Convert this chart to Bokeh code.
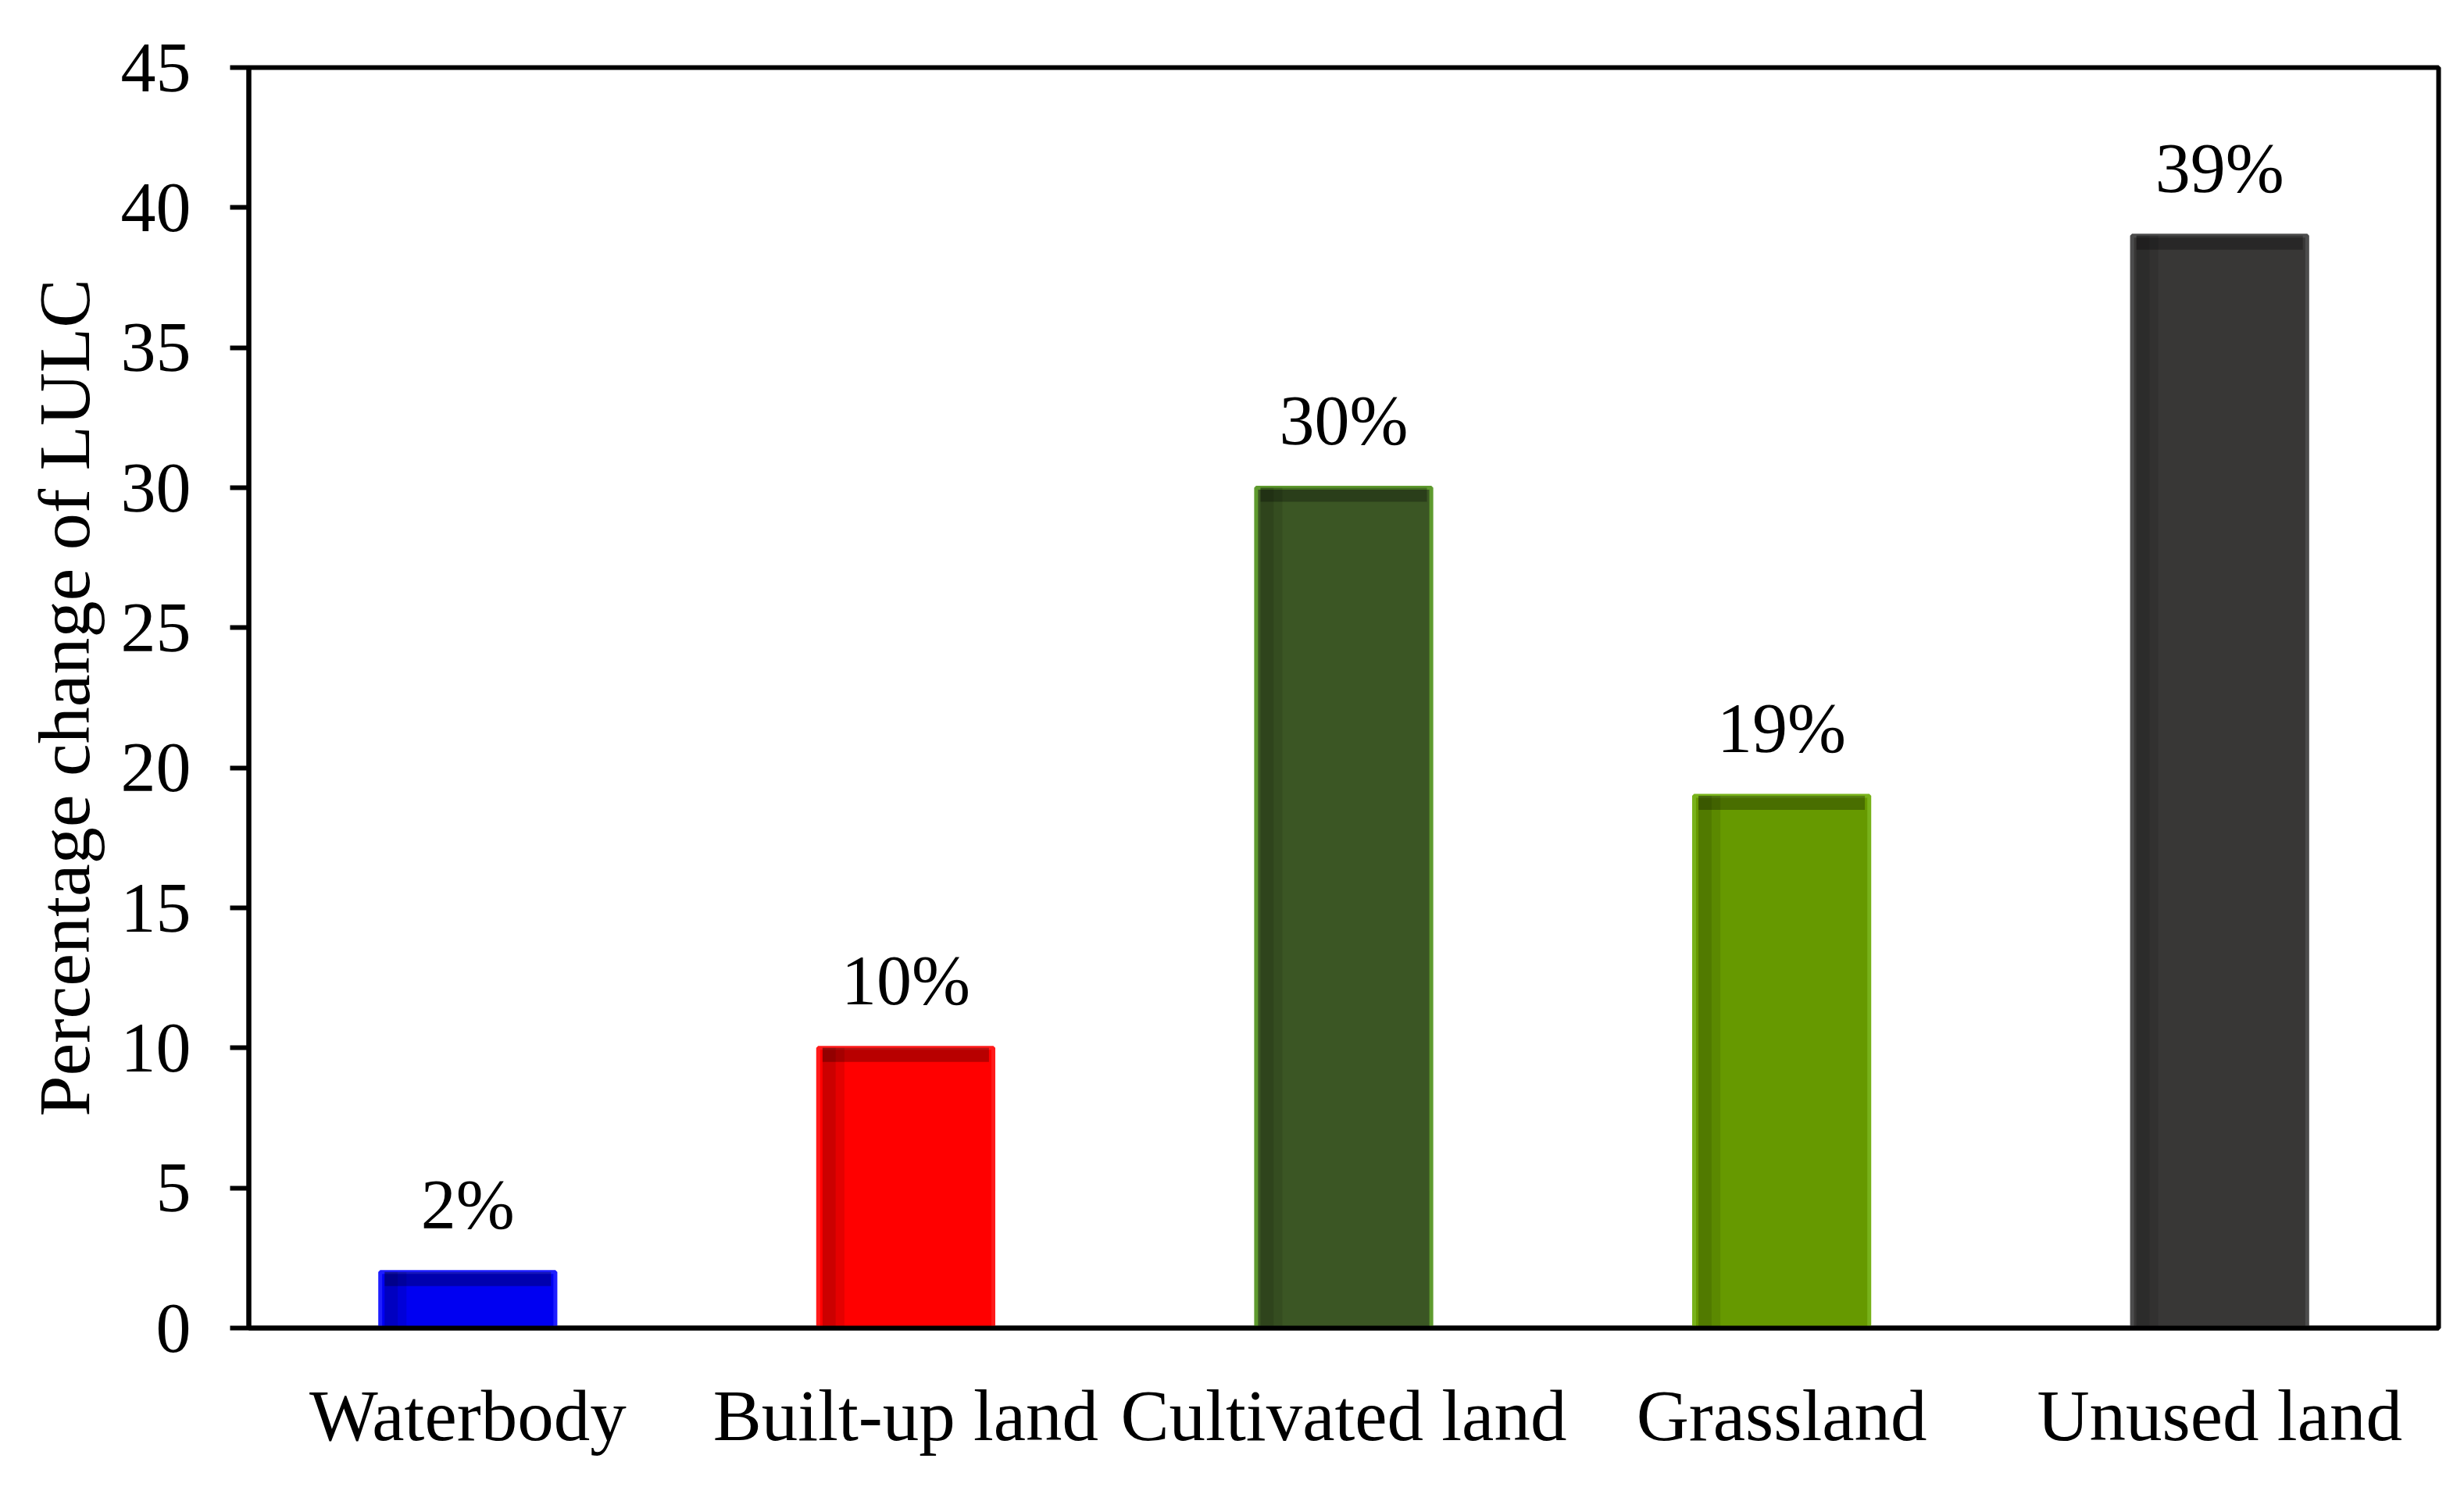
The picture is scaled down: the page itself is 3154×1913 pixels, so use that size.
from bokeh.plotting import figure
from bokeh.models import ColumnDataSource, LabelSet, Range1d, FactorRange, SingleIntervalTicker
from bokeh.transform import dodge
from bokeh.embed import file_html
from bokeh.resources import INLINE

categories = ["Waterbody", "Built-up land", "Cultivated land", "Grassland", "Unused land"]
values = [2, 10, 30, 19, 39]
labels = ["2%", "10%", "30%", "19%", "39%"]
fill_colors = ["#0000F2", "#FF0000", "#3B5624", "#669900", "#383736"]
line_colors = ["#1E1EFF", "#FF1A1A", "#5E9A2E", "#78B21A", "#4C4C4C"]

FONT = "Liberation Serif"

src = ColumnDataSource(dict(
    cat=categories, val=values, lab=labels, fill=fill_colors, line=line_colors,
    band_bottom=[v - 0.5 for v in values],
))

p = figure(
    width=3138, height=1897,
    x_range=FactorRange(*categories, range_padding=0),
    y_range=Range1d(0, 45),
    output_backend="svg", toolbar_location=None,
    min_border_left=318, min_border_right=17, min_border_top=86, min_border_bottom=197,
)

p.vbar(x="cat", top="val", bottom=0, width=0.4, source=src,
       fill_color="fill", line_color="line", line_width=5)
# subtle shading at the top and left of each bar
p.vbar(x="cat", top="val", bottom="band_bottom", width=0.38, source=src,
       fill_color="black", fill_alpha=0.28, line_color=None)
p.vbar(x=dodge("cat", -0.175, range=p.x_range), top="val", bottom=0, width=0.03, source=src,
       fill_color="black", fill_alpha=0.2, line_color=None)
p.vbar(x=dodge("cat", -0.15, range=p.x_range), top="val", bottom=0, width=0.02, source=src,
       fill_color="black", fill_alpha=0.1, line_color=None)

lbl = LabelSet(x="cat", y="val", text="lab", source=src, y_offset=56,
               text_align="center", text_baseline="alphabetic",
               text_font=FONT, text_font_size="90px", text_color="black")
p.add_layout(lbl)

p.xgrid.visible = False
p.ygrid.visible = False
p.outline_line_color = "black"
p.outline_line_width = 6
p.background_fill_color = "white"
p.border_fill_color = "white"

ya = p.yaxis[0]
ya.ticker = SingleIntervalTicker(interval=5)
ya.axis_label = "Percentage change of LULC"
ya.axis_label_text_font = FONT
ya.axis_label_text_font_style = "normal"
ya.axis_label_text_font_size = "94px"
ya.axis_label_text_color = "black"
ya.axis_label_standoff = 18
ya.major_label_text_font = FONT
ya.major_label_text_font_size = "90px"
ya.major_label_text_color = "black"
ya.major_label_standoff = 50
ya.major_tick_out = 24
ya.major_tick_in = 0
ya.minor_tick_out = 0
ya.minor_tick_in = 0
ya.major_tick_line_width = 6
ya.major_tick_line_color = "black"
ya.axis_line_width = 6
ya.axis_line_color = "black"

xa = p.xaxis[0]
xa.major_label_text_font = FONT
xa.major_label_text_font_size = "93px"
xa.major_label_text_color = "black"
xa.major_label_standoff = 60
xa.major_tick_out = 0
xa.major_tick_in = 0
xa.axis_line_width = 6
xa.axis_line_color = "black"

open("out.html", "w").write(file_html(p, INLINE))
